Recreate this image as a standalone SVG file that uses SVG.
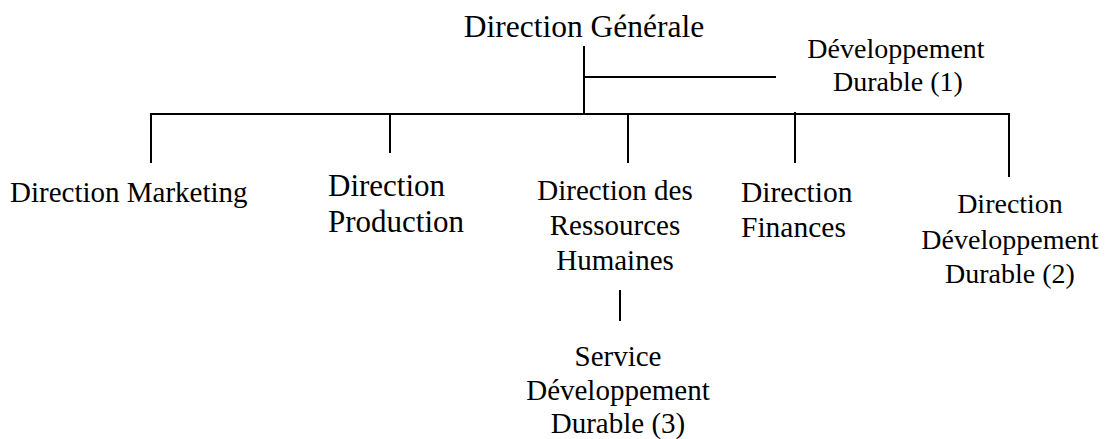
<svg xmlns="http://www.w3.org/2000/svg" width="1111" height="439" viewBox="0 0 1111 439">
<style>
text{font-family:"Liberation Serif","Times New Roman",serif;fill:#000}
.c{text-anchor:middle}
line{stroke:#000;stroke-width:2}
</style>
<rect width="1111" height="439" fill="#fff"/>
<g id="connectors">
<line x1="584" y1="46" x2="584" y2="114"/>
<line x1="584" y1="77" x2="776" y2="77"/>
<line x1="150" y1="114" x2="1010" y2="114"/>
<line x1="151" y1="114" x2="151" y2="163"/>
<line x1="390" y1="114" x2="390" y2="153"/>
<line x1="628" y1="114" x2="628" y2="163"/>
<line x1="795" y1="112" x2="795" y2="163"/>
<line x1="1009" y1="114" x2="1009" y2="177"/>
<line x1="620" y1="290" x2="620" y2="321"/>
</g>
<g id="dg"><text class="c" x="584" y="37" font-size="31.5">Direction Générale</text></g>
<g id="dd1"><text class="c" font-size="28"><tspan x="896" y="58">Développement</tspan><tspan x="898" y="91">Durable (1)</tspan></text></g>
<g id="marketing"><text x="10" y="202" font-size="29">Direction Marketing</text></g>
<g id="production"><text font-size="31"><tspan x="328" y="196">Direction</tspan><tspan x="328" y="232">Production</tspan></text></g>
<g id="rh"><text class="c" font-size="29"><tspan x="615" y="200">Direction des</tspan><tspan x="615" y="235">Ressources</tspan><tspan x="615" y="270">Humaines</tspan></text></g>
<g id="finances"><text font-size="29.5"><tspan x="741" y="202">Direction</tspan><tspan x="741" y="237">Finances</tspan></text></g>
<g id="dd2"><text class="c" font-size="28"><tspan x="1010" y="213">Direction</tspan><tspan x="1010" y="249">Développement</tspan><tspan x="1010" y="283">Durable (2)</tspan></text></g>
<g id="service"><text class="c" font-size="29"><tspan x="618" y="366">Service</tspan><tspan x="618" y="400">Développement</tspan><tspan x="618" y="433">Durable (3)</tspan></text></g>
</svg>
